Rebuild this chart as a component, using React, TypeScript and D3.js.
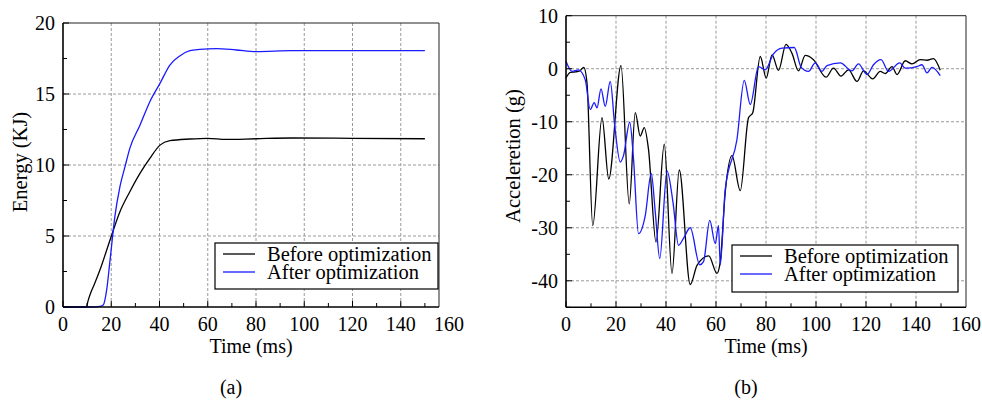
import React from 'react';
import * as d3 from 'd3';

// energy curves (time ms, energy KJ)
const energyBefore: [number, number][] = [
    [0, 0], [9.6, 0], [10.5, 0.5], [11.5, 1.0], [13, 1.6], [15.3, 2.6], [19.5, 4.72],
    [23.6, 6.71], [27.7, 8.12], [31.9, 9.41], [36, 10.47], [40.2, 11.4], [44.3, 11.71],
    [52.6, 11.83], [60, 11.88], [67.6, 11.8], [80, 11.85], [95, 11.9], [120, 11.88], [150, 11.85],
];
const energyAfter: [number, number][] = [
    [0, 0], [12, 0], [15.3, 0.05], [16.7, 0.14], [18.1, 1.2], [19.5, 3.3], [21.5, 6.36],
    [23.6, 8.47], [25.7, 9.88], [27.7, 11.17], [31.9, 12.8], [36, 14.46], [40.2, 15.75],
    [44.3, 17.04], [48.4, 17.68], [52.6, 18.05], [56.7, 18.14], [63.6, 18.2], [71.8, 18.1],
    [80, 17.98], [95.2, 18.05], [120, 18.05], [150, 18.05],
];

// acceleration curves (time ms, acceleration g)
const accBefore: [number, number][] = [
    [0, -1.75], [1.7, -0.7], [3.7, -0.6], [5.5, -0.4], [7.1, 0.25], [8.4, -2.7], [10.7, -29.6],
    [14.4, -9.25], [17.1, -20.8], [22, 0.6], [25.3, -25.5], [27.7, -8.3], [29.7, -12.7],
    [31.3, -11.1], [33, -15.2], [36, -32.7], [39.3, -14.25], [42.4, -38.6], [45.3, -19.1],
    [49.7, -40.7], [52.4, -37.1], [57.1, -35.3], [60.4, -38.6], [61.7, -36.4], [63.7, -23.3],
    [66.4, -16.4], [69.7, -23], [73, -9.25], [74.7, -8.3], [77.7, 2.3], [80.1, -1.75],
    [82.4, 2.6], [85, -0.3], [88, 4.6], [90.4, 2.9], [93, -0.4], [95.7, 2.5], [99, 1.7],
    [104, -1.6], [107, 0.1], [110, -1.4], [113, -0.2], [116.4, -2.4], [119, -0.4],
    [122.7, -1.9], [125.7, -0.5], [127.7, -0.9], [130.4, 0.4], [132.4, -1.1], [135.7, 1.5],
    [138.4, 0.9], [141.7, 1.7], [144.4, 1.6], [147, 1.9], [149.7, -0.3],
];
const accAfter: [number, number][] = [
    [0, 1.4], [2.4, -0.5], [5, -0.2], [7.7, -2.1], [9.7, -7.7], [11.3, -6.4], [12.4, -7.4],
    [14, -3.8], [15.7, -7.1], [17.7, -2.4], [19.5, -10.8], [21.7, -17.6], [23, -16.4],
    [25.5, -10.1], [27, -17], [29, -31.1], [31.7, -27.7], [34.1, -19.75], [35.7, -27],
    [37.5, -35.8], [40.4, -19.25], [42.8, -25.2], [45, -33.3], [47, -32], [49.7, -30],
    [53.5, -37], [55, -36.4], [57.5, -28.6], [59.7, -33], [61, -29.6], [61.7, -37],
    [63.7, -22.7], [68.4, -13.3], [71.3, -2.2], [73.7, -6.75], [77, 0.4], [79.7, -0.2],
    [83, 2.8], [86.4, 3.9], [91.3, 4], [94.1, 0.25], [97, -0.5], [99.7, 1.1], [102.4, -0.5],
    [104.4, 0.6], [109.7, 1.1], [114.4, -0.4], [117, 0.9], [120.4, -1.1], [123, 0.75],
    [126, 1.7], [129, -0.5], [133.5, 1.1], [135.7, 0.1], [140.4, 0.4], [142.4, 0.75],
    [144.4, -0.8], [146.4, 0.25], [149.7, -1.3],
];

const xTicks = [0, 20, 40, 60, 80, 100, 120, 140, 160];
const energyTicks = [0, 5, 10, 15, 20];
const accTicks = [10, 0, -10, -20, -30, -40];
const legendLabels = ['Before optimization', 'After optimization'];
const colors = ['#000000', '#1a1aff'];

const fontStyle = { fontFamily: "'Liberation Serif', 'DejaVu Serif', 'Times New Roman', serif" };

type PanelProps = {
    left: number; top: number; right: number; bottom: number;
    xRangeEnd: number;
    yDomain: [number, number];
    yTicks: number[];
    yMinorStep: number;
    series: [number, number][][];
    yLabel: string;
    yLabelX: number;
    yLabelY: number;
    legend: { x: number; y: number; w: number; h: number };
    caption: string;
};

const Panel = (props: PanelProps) => {
    const { left, top, right, bottom, xRangeEnd, yDomain, yTicks, yMinorStep, series, legend } = props;
    const x = d3.scaleLinear().domain([0, 160]).range([left, xRangeEnd]);
    const y = d3.scaleLinear().domain(yDomain).range([bottom, top]);
    const line = d3.line<[number, number]>()
        .x((d) => x(d[0]))
        .y((d) => y(d[1]))
        .curve(d3.curveMonotoneX);

    const xMinor = d3.range(10, 160, 20).filter((v) => x(v) < right);
    const yMinor = d3.range(yDomain[0], yDomain[1], yMinorStep).filter((v) => !yTicks.includes(v));
    const gridX = xTicks.filter((v) => x(v) > left + 1 && x(v) < right - 1);
    const gridY = yTicks.filter((v) => y(v) < bottom - 1 && y(v) > top + 1);
    const midX = (left + right) / 2;

    return (
        <g style={fontStyle}>
            {/* grid */}
            {gridX.map((v) => (
                <line key={`gx${v}`} x1={x(v)} x2={x(v)} y1={top} y2={bottom}
                    stroke="#9a9a9a" strokeWidth={1} strokeDasharray="3,2" />
            ))}
            {gridY.map((v) => (
                <line key={`gy${v}`} x1={left} x2={right} y1={y(v)} y2={y(v)}
                    stroke="#9a9a9a" strokeWidth={1} strokeDasharray="3,2" />
            ))}

            {/* curves */}
            {series.map((s, i) => (
                <path key={`s${i}`} d={line(s) || ''} fill="none" stroke={colors[i]} strokeWidth={1.3} />
            ))}

            {/* frame */}
            <line x1={left} x2={right} y1={top} y2={top} stroke="#222" strokeWidth={1} />
            <line x1={right} x2={right} y1={top} y2={bottom} stroke="#222" strokeWidth={1} />
            <line x1={left} x2={left} y1={top} y2={bottom} stroke="#000" strokeWidth={1.6} />
            <line x1={left} x2={right} y1={bottom} y2={bottom} stroke="#000" strokeWidth={1.6} />

            {/* ticks */}
            {xMinor.map((v) => (
                <line key={`xm${v}`} x1={x(v)} x2={x(v)} y1={bottom} y2={bottom - 4} stroke="#000" />
            ))}
            {xTicks.filter((v) => x(v) < right).map((v) => (
                <line key={`xt${v}`} x1={x(v)} x2={x(v)} y1={bottom} y2={bottom - 6} stroke="#000" />
            ))}
            {yMinor.map((v) => (
                <line key={`ym${v}`} x1={left} x2={left + 4} y1={y(v)} y2={y(v)} stroke="#000" />
            ))}
            {yTicks.map((v) => (
                <line key={`yt${v}`} x1={left} x2={left + 6} y1={y(v)} y2={y(v)} stroke="#000" />
            ))}

            {/* tick labels */}
            {xTicks.map((v) => (
                <text key={`xl${v}`} x={x(v)} y={bottom + 24} textAnchor="middle" fontSize={20}>{v}</text>
            ))}
            {yTicks.map((v) => (
                <text key={`yl${v}`} x={left - 8} y={y(v)} dy="0.35em" textAnchor="end" fontSize={20}>{v}</text>
            ))}

            {/* axis titles */}
            <text x={midX} y={bottom + 46} textAnchor="middle" fontSize={20}>Time (ms)</text>
            <text transform={`translate(${props.yLabelX},${props.yLabelY}) rotate(-90)`} dy="0.35em"
                textAnchor="middle" fontSize={20.5}>{props.yLabel}</text>
            <text x={midX - 20} y={bottom + 87} textAnchor="middle" fontSize={20}>{props.caption}</text>

            {/* legend */}
            <rect x={legend.x} y={legend.y} width={legend.w} height={legend.h}
                fill="#fff" stroke="#000" strokeWidth={1.2} />
            {legendLabels.map((lab, i) => (
                <g key={lab}>
                    <line x1={legend.x + 8} x2={legend.x + 40} y1={legend.y + 11 + i * 18}
                        y2={legend.y + 11 + i * 18} stroke={colors[i]} strokeWidth={1.3} />
                    <text x={legend.x + 52} y={legend.y + 18 + i * 18} fontSize={20.5}>{lab}</text>
                </g>
            ))}
        </g>
    );
};

const App = () => (
    <svg width={982} height={408} style={{ display: 'block', position: 'absolute', left: 0, top: 0, background: '#fff' }}>
        <Panel
            left={63} top={23} right={439} bottom={307} xRangeEnd={449}
            yDomain={[0, 20]} yTicks={energyTicks} yMinorStep={2.5}
            series={[energyBefore, energyAfter]}
            yLabel="Energy (KJ)" yLabelX={20} yLabelY={162}
            legend={{ x: 215, y: 243, w: 223, h: 46 }}
            caption="(a)"
        />
        <Panel
            left={566} top={15.7} right={966} bottom={307.3} xRangeEnd={966}
            yDomain={[-45, 10]} yTicks={accTicks} yMinorStep={5}
            series={[accBefore, accAfter]}
            yLabel="Acceleretion (g)" yLabelX={513} yLabelY={156}
            legend={{ x: 732, y: 245, w: 226, h: 47 }}
            caption="(b)"
        />
    </svg>
);

export default App;
